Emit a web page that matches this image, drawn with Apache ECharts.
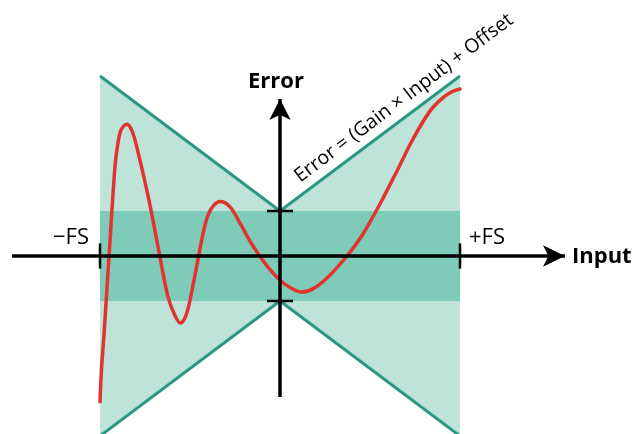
<!DOCTYPE html>
<html>
<head>
<meta charset="utf-8">
<script src="https://cdn.jsdelivr.net/npm/echarts@6/dist/echarts.min.js"></script>
<style>
  html, body { margin: 0; padding: 0; background: #fff; }
  #chart { width: 634px; height: 434px; }
</style>
</head>
<body>
<div id="chart"></div>
<script>
// envelope: Error = (Gain x Input) + Offset, Input from -FS to +FS
const envX = [-1, 0, 1];
const envUpper = [4, 1, 4];
const envLower = [-4, -1, -4];
const bandY = [-1, 1];

const curveX = [-1.000, -0.992, -0.978, -0.950, -0.917, -0.903, -0.883, -0.852, -0.822, -0.789,
  -0.728, -0.667, -0.622, -0.583, -0.552, -0.518, -0.482, -0.453, -0.426, -0.400,
  -0.367, -0.329, -0.278, -0.222, -0.167, -0.111, -0.056, 0, 0.056, 0.117,
  0.183, 0.261, 0.372, 0.461, 0.556, 0.650, 0.739, 0.833, 0.906, 0.961,
  1.000];
const curveY = [-3.24, -2.53, -1.76, -0.02, 1.98, 2.44, 2.80, 2.93, 2.78, 2.31,
  1.24, -0.02, -0.91, -1.33, -1.49, -1.27, -0.62, -0.02, 0.53, 0.91,
  1.13, 1.21, 1.09, 0.73, 0.33, -0.01, -0.30, -0.54, -0.70, -0.80,
  -0.73, -0.49, 0, 0.49, 1.16, 1.89, 2.60, 3.22, 3.52, 3.66,
  3.71];

// axes extents (x: input axis, y: error axis), arrow tips at the ends
const inputAxis = [-1.489, 1.583];
const errorAxis = [-3.133, 3.489];
// tick marks: [x1, y1, x2, y2]
const ticks = [
  [-1, -0.28, -1, 0.28],
  [1, -0.28, 1, 0.28],
  [-0.072, 1, 0.072, 1],
  [-0.072, -1, 0.072, -1]
];

const chart = echarts.init(document.getElementById('chart'));

const polyPoints = (xs, ys) => xs.map((x, i) => [x, ys[i]]);
const bowtie = polyPoints(envX, envUpper).concat(polyPoints(envX, envLower).reverse());
const band = [[envX[0], bandY[0]], [envX[2], bandY[0]], [envX[2], bandY[1]], [envX[0], bandY[1]]];
const curve = polyPoints(curveX, curveY);

const polygonSeries = (pts, color, z) => ({
  type: 'custom',
  z: z,
  silent: true,
  data: [0],
  renderItem: (params, api) => ({
    type: 'polygon',
    shape: { points: pts.map(p => api.coord(p)) },
    style: { fill: color }
  })
});

const fontFam = '"Open Sans", "Noto Sans", sans-serif';

const option = {
  animation: false,
  grid: { left: 0, right: 0, top: 0, bottom: 0 },
  xAxis: { type: 'value', min: -1.5556, max: 1.9667, show: false },
  yAxis: { type: 'value', min: -3.956, max: 5.689, show: false },
  series: [
    polygonSeries(bowtie, '#bee4d9', 1),
    polygonSeries(band, '#7fcbba', 2),
    {
      type: 'line', z: 3, silent: true, showSymbol: false,
      data: polyPoints(envX, envUpper),
      lineStyle: { color: '#2a9882', width: 3 }
    },
    {
      type: 'line', z: 3, silent: true, showSymbol: false,
      data: polyPoints(envX, envLower),
      lineStyle: { color: '#2a9882', width: 3 }
    },
    {
      // error curve: smooth polyline through the read points
      type: 'custom', z: 4, silent: true,
      data: [0],
      renderItem: (params, api) => ({
        type: 'polyline',
        shape: { points: curve.map(p => api.coord(p)), smooth: 0.35 },
        style: { stroke: '#e2332c', lineWidth: 3.5, fill: null, lineJoin: 'round', lineCap: 'round' }
      })
    },
    {
      type: 'line', z: 5, silent: true, data: [],
      markLine: {
        silent: true,
        symbol: ['none', 'arrow'],
        symbolSize: [0, 18],
        label: { show: false },
        lineStyle: { color: '#000', width: 3.5, type: 'solid' },
        emphasis: { disabled: true },
        data: [
          [{ coord: [inputAxis[0], 0] }, { coord: [inputAxis[1], 0], symbolSize: [16, 22] }],
          [{ coord: [0, errorAxis[0]] }, { coord: [0, errorAxis[1]], symbolSize: [16, 21] }]
        ]
      }
    },
    {
      type: 'custom', z: 6, silent: true,
      data: ticks,
      renderItem: (params, api) => {
        const a = api.coord([api.value(0), api.value(1)]);
        const b = api.coord([api.value(2), api.value(3)]);
        return {
          type: 'line',
          shape: { x1: a[0], y1: a[1], x2: b[0], y2: b[1] },
          style: { stroke: '#000', lineWidth: 2.5 }
        };
      }
    }
  ],
  graphic: [
    { type: 'text', x: 276, y: 82, style: { text: 'Error', font: 'bold 22px ' + fontFam, fill: '#000', textAlign: 'center', textVerticalAlign: 'middle' } },
    { type: 'text', x: 572, y: 257, style: { text: 'Input', font: 'bold 22px ' + fontFam, fill: '#000', textAlign: 'left', textVerticalAlign: 'middle' } },
    { type: 'text', x: 89, y: 238, style: { text: '\u2212FS', font: '22px ' + fontFam, fill: '#000', textAlign: 'right', textVerticalAlign: 'middle' } },
    { type: 'text', x: 469, y: 238, style: { text: '+FS', font: '22px ' + fontFam, fill: '#000', textAlign: 'left', textVerticalAlign: 'middle' } },
    { type: 'text', x: 288, y: 240, style: { text: '0', font: '22px ' + fontFam, fill: '#000', textAlign: 'left', textVerticalAlign: 'middle' } },
    { type: 'text', x: 404, y: 98, rotation: 0.6435, style: { text: 'Error = (Gain \u00d7 Input) + Offset', font: '19.5px ' + fontFam, fill: '#000', textAlign: 'center', textVerticalAlign: 'middle' } }
  ]
};

chart.setOption(option);
</script>
</body>
</html>
